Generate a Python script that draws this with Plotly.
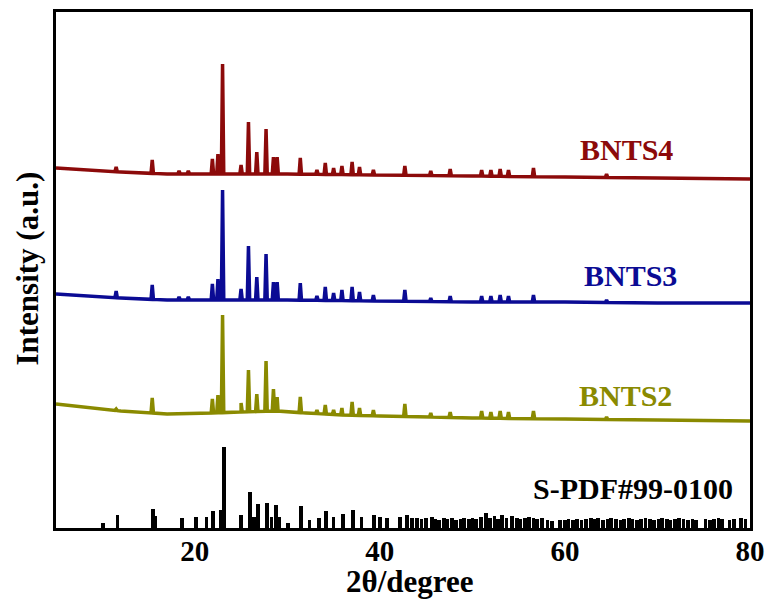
import numpy as np
import plotly.graph_objects as go

# ---------------- data ----------------
# shared peak positions (2theta, degree)
peak_pos = [11.5, 15.4, 18.3, 19.3, 21.9, 22.5, 23.0, 25.0, 25.8, 26.7, 27.7, 28.5, 28.9,
            31.4, 33.2, 34.1, 35.0, 35.9, 37.0, 37.8, 39.3, 42.7, 45.5, 47.6, 51.0, 52.0,
            53.0, 53.9, 56.6, 64.5]

# BNTS4 (offset pattern, arbitrary units)
bnts4_base_x = [5, 8, 12, 17, 22, 30, 40, 50, 60, 70, 80]
bnts4_base_y = [360, 358, 356, 354, 354, 354, 353, 352, 351, 350, 349]
bnts4_peak_y = [361, 368, 357, 357, 369, 374, 464, 363, 406, 376, 399, 371, 371,
                370, 358, 365, 360, 362, 366, 361, 358, 362, 357, 359, 358, 358,
                359, 358, 360, 354]

# BNTS3
bnts3_base_x = [5, 8, 12, 17, 22, 30, 40, 50, 60, 70, 80]
bnts3_base_y = [234, 232, 230, 228, 228, 228, 227, 226, 226, 225, 225]
bnts3_peak_y = [237, 243, 231, 231, 244, 249, 338, 239, 282, 251, 274, 246, 246,
                245, 232, 241, 235, 238, 241, 236, 233, 238, 230, 232, 232, 232,
                233, 232, 233, 228]

# BNTS2
bnts2_base_x = [5, 8, 12, 17, 22, 25, 29, 32, 36, 40, 50, 60, 70, 80]
bnts2_base_y = [124, 121, 117, 114, 115, 116, 117, 115, 113, 112, 110, 109, 108, 107]
bnts2_peak_y = [119, 130, 115, 115, 129, 133, 213, 125, 158, 134, 167, 139, 131,
                131, 118, 123, 118, 120, 126, 120, 118, 124, 115, 116, 117, 116,
                117, 116, 117, 111]

# S-PDF#99-0100 reference sticks
ref_pos = [10.1, 11.65, 15.5, 15.7, 18.6, 20.1, 21.25, 22.0, 22.8, 23.15, 25.0, 25.96,
           26.4, 26.8, 27.8, 28.3, 28.8, 29.1, 30.1, 31.5, 32.4, 33.4, 34.2, 35.0, 36.0,
           37.1, 38.0, 39.4, 40.0, 40.8, 42.2, 42.9, 43.5, 44.0, 44.5, 45.0, 45.6,
           46.0, 46.4, 46.9, 47.3, 47.8, 48.2, 48.7, 49.1, 49.6, 50.0, 50.4, 50.9, 51.5,
           51.9, 52.4, 52.8, 53.2, 53.7, 54.3, 54.8, 55.2, 55.7, 56.1, 56.6, 57.0, 57.5,
           58.1, 58.6, 59.5, 60.0, 60.4, 60.9, 61.3, 61.8, 62.3, 62.8, 63.2, 63.6, 64.1,
           64.6, 65.0, 65.5, 66.0, 66.4, 66.9, 67.3, 67.8, 68.2, 68.7, 69.2, 69.6, 70.1,
           70.5, 71.0, 71.4, 71.9, 72.3, 72.8, 73.3, 73.8, 74.2, 75.2, 75.7, 76.1, 76.6,
           77.0, 77.8, 78.3, 79.0, 79.5]
ref_h = [5, 13, 19, 12, 10, 11, 11, 17, 18, 81, 13, 36,
         11, 24, 25, 11, 23, 11, 5, 22, 8, 10, 17, 11, 14,
         18, 11, 13, 11, 10, 11, 13, 10, 10, 9, 10, 11,
         9, 8, 10, 9, 10, 8, 9, 10, 9, 10, 9, 11, 15,
         10, 12, 9, 13, 10, 12, 10, 9, 10, 11, 10, 9, 10,
         8, 7, 8, 8, 9, 8, 9, 8, 9, 10, 9, 10, 8,
         9, 10, 9, 8, 9, 10, 9, 8, 9, 10, 9, 8, 9,
         10, 9, 8, 9, 10, 9, 8, 9, 8, 9, 8, 9, 10,
         9, 8, 9, 10, 9]

labels = ["BNTS4", "BNTS3", "BNTS2", "S-PDF#99-0100"]
colors = ["#8C0A0A", "#0B0B94", "#8A8A00", "#000000"]
label_x = [66.7, 67.1, 66.5, 67.4]
label_y = [379, 253, 133, 40]

FONT = "Liberation Serif, Times New Roman, serif"
HALF_W = 0.13


def pattern(base_x, base_y, tops):
    xs = list(base_x)
    ys = list(base_y)
    for p, t in zip(peak_pos, tops):
        for dx in (-HALF_W, HALF_W):
            xs.append(p + dx)
            ys.append(float(np.interp(p + dx, base_x, base_y)))
        xs.append(p)
        ys.append(t)
    order = np.argsort(xs, kind="stable")
    return np.array(xs)[order], np.array(ys)[order]


fig = go.Figure()
for (bx, by, tops), col in zip(
        [(bnts4_base_x, bnts4_base_y, bnts4_peak_y),
         (bnts3_base_x, bnts3_base_y, bnts3_peak_y),
         (bnts2_base_x, bnts2_base_y, bnts2_peak_y)], colors[:3]):
    x, y = pattern(bx, by, tops)
    fig.add_trace(go.Scatter(x=x, y=y, mode="lines",
                             line=dict(color=col, width=3.5), showlegend=False))

fig.add_trace(go.Bar(x=ref_pos, y=ref_h, width=0.4, marker=dict(color="black", line=dict(width=0)),
                     showlegend=False))

for lab, col, lx, ly in zip(labels, colors, label_x, label_y):
    fig.add_annotation(x=lx, y=ly, xref="x", yref="y", text=lab, showarrow=False,
                       xanchor="center", yanchor="middle",
                       font=dict(family=FONT, size=30, color=col, weight="bold"))

fig.add_annotation(x=0.510, y=-0.103, xref="paper", yref="paper", text="2θ/degree",
                   showarrow=False, xanchor="center", yanchor="middle",
                   font=dict(family=FONT, size=31, color="black", weight="bold"))
fig.add_annotation(x=-0.041, y=0.502, xref="paper", yref="paper", text="Intensity (a.u.)",
                   showarrow=False, xanchor="center", yanchor="middle", textangle=-90,
                   font=dict(family=FONT, size=31, color="black", weight="bold"))

fig.update_layout(
    width=769, height=602,
    margin=dict(l=56, r=19, t=12, b=74),
    paper_bgcolor="white", plot_bgcolor="white",
    bargap=0,
    xaxis=dict(range=[5, 80], tickvals=[20, 40, 60, 80], showgrid=False, zeroline=False,
               showline=True, mirror=True, linecolor="black", linewidth=3, ticks="",
               automargin=False, ticklabelstandoff=-5,
               tickfont=dict(family=FONT, size=29, color="black", weight="bold")),
    yaxis=dict(range=[0, 516], showgrid=False, zeroline=False, showticklabels=False,
               automargin=False,
               showline=True, mirror=True, linecolor="black", linewidth=3, ticks=""),
)

fig.write_html("out.html")
